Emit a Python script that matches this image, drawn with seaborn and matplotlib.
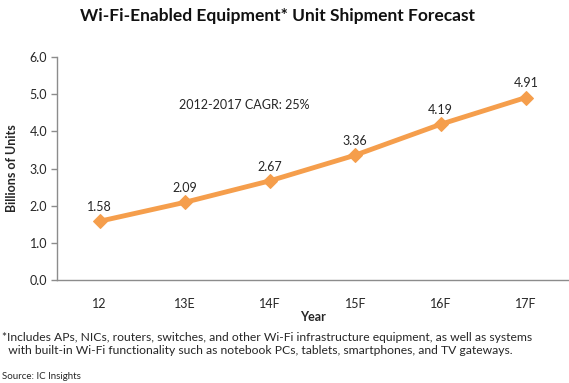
import matplotlib
matplotlib.use("Agg")
import matplotlib.pyplot as plt
import seaborn as sns
import pandas as pd

years = ["12", "13E", "14F", "15F", "16F", "17F"]
shipments = [1.58, 2.09, 2.67, 3.36, 4.19, 4.91]

line_color = "#F59E4C"
axis_color = "#8C8C8C"
text_color = "#262626"

sns.set_theme(style="white")
plt.rcParams["font.family"] = ["Lato", "DejaVu Sans"]

df = pd.DataFrame({"Year": years, "Units": shipments})

fig = plt.figure(figsize=(5.69, 3.83), dpi=100)
ax = fig.add_axes([0.100, 0.269, 0.899, 0.582])

sns.lineplot(data=df, x="Year", y="Units", ax=ax, color=line_color,
             linewidth=3.5, marker="D", markersize=7,
             markeredgecolor=line_color, sort=False)

for i, v in enumerate(shipments):
    ax.text(i, v + 0.22, f"{v:.2f}", ha="center", va="bottom",
            fontsize=9, color=text_color)

ax.text(1.0 - 0.07, 4.72, "2012-2017 CAGR: 25%", fontsize=9,
        color=text_color, va="center", ha="left")

ax.set_xlim(-0.5, len(years) - 0.5)
ax.set_ylim(0, 6)
ax.set_yticks([0, 1, 2, 3, 4, 5, 6])
ax.set_yticklabels([f"{t:.1f}" for t in range(7)], fontsize=9, color=text_color)
ax.set_xticks(range(len(years)))
ax.set_xticklabels(years, fontsize=9, color=text_color)
ax.set_xticks([i - 0.5 for i in range(len(years) + 1)], minor=True)
ax.tick_params(axis="x", which="major", length=0, pad=13)
ax.tick_params(axis="x", which="minor", length=4, color=axis_color, width=1)
ax.tick_params(axis="y", length=4, color=axis_color, width=1, left=True, pad=3)

for s in ["top", "right"]:
    ax.spines[s].set_visible(False)
for s in ["left", "bottom"]:
    ax.spines[s].set_color(axis_color)
    ax.spines[s].set_linewidth(1)

ax.set_xlabel("Year", fontsize=9, fontweight="bold", color=text_color, labelpad=1)
ax.set_ylabel("Billions of Units", fontsize=9, fontweight="bold",
              color=text_color, labelpad=8)

fig.text(0.487, 0.958, "Wi-Fi-Enabled Equipment* Unit Shipment Forecast",
         ha="center", va="center", fontsize=12.5, fontweight="bold", color="#111111")

fig.text(0.004, 0.102,
         "*Includes APs, NICs, routers, switches, and other Wi-Fi infrastructure equipment, as well as systems\n"
         "  with built-in Wi-Fi functionality such as notebook PCs, tablets, smartphones, and TV gateways.",
         ha="left", va="center", fontsize=8.7, color=text_color, linespacing=1.25)
fig.text(0.004, 0.018, "Source: IC Insights", ha="left", va="center",
         fontsize=7, color=text_color)

fig.savefig("out.png", dpi=100)
